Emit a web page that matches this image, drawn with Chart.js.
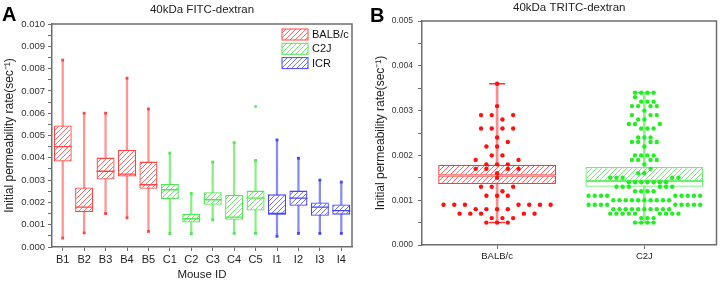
<!DOCTYPE html>
<html>
<head>
<meta charset="utf-8">
<script src="https://cdn.jsdelivr.net/npm/chart.js@4.4.1/dist/chart.umd.min.js"></script>
<style>
  html, body { margin: 0; padding: 0; background: #fff; }
  #wrap { position: relative; width: 726px; height: 282px; overflow: hidden; }
  #chartA { position: absolute; left: 0; top: 0; }
  #chartB { position: absolute; left: 365px; top: 0; }
</style>
</head>
<body>
<div id="wrap">
  <canvas id="chartA" width="365" height="282"></canvas>
  <canvas id="chartB" width="361" height="282"></canvas>
</div>
<script>
// ---------- panel A : per-mouse boxes ----------
const mouseIds = ['B1', 'B2', 'B3', 'B4', 'B5', 'C1', 'C2', 'C3', 'C4', 'C5', 'I1', 'I2', 'I3', 'I4'];
const strainNames = ['BALB/c', 'C2J', 'ICR'];
const strainOfMouse = [0, 0, 0, 0, 0, 1, 1, 1, 1, 1, 2, 2, 2, 2];
const boxLow    = [0.00383, 0.00157, 0.00303, 0.00316, 0.00261, 0.00215, 0.00110, 0.00189, 0.00122, 0.00164, 0.00145, 0.00185, 0.00140, 0.00145];
const boxMid    = [0.00450, 0.00179, 0.00340, 0.00327, 0.00279, 0.00257, 0.00127, 0.00212, 0.00134, 0.00219, 0.00150, 0.00219, 0.00179, 0.00163];
const boxHigh   = [0.00545, 0.00267, 0.00401, 0.00436, 0.00383, 0.00282, 0.00148, 0.00246, 0.00233, 0.00253, 0.00236, 0.00253, 0.00200, 0.00191];
const whiskLow  = [0.00040, 0.00063, 0.00150, 0.00131, 0.00070, 0.00060, 0.00060, 0.00122, 0.00061, 0.00061, 0.00048, 0.00061, 0.00061, 0.00061];
const whiskHigh = [0.00838, 0.00600, 0.00600, 0.00757, 0.00619, 0.00421, 0.00240, 0.00381, 0.00468, 0.00388, 0.00480, 0.00398, 0.00300, 0.00291];
const outlierRates = [null, null, null, null, null, null, null, null, null, 0.0063, null, null, null, null];

// ---------- panel B : pooled rates ----------
const groupNames = ['BALB/c', 'C2J'];
const groupBoxLow = [0.00136, 0.00130];
const groupBoxMid = [0.00155, 0.00143];
const groupBoxHigh = [0.00179, 0.00174];
const groupWhiskLow = [0.0005, 0.0005];
const groupWhiskHigh = [0.0036, 0.0034];

const balbRates = [
  0.0036, 0.0031,
  0.0029, 0.0029, 0.0029, 0.0028,
  0.0026, 0.0026, 0.0026, 0.0026,
  0.0024, 0.0023, 0.0022, 0.0022,
  0.0020, 0.0020,
  0.0019, 0.0019, 0.0018, 0.0018, 0.0018,
  0.0017, 0.0017, 0.0017, 0.0017, 0.0016,
  0.0015,
  0.0013, 0.0013, 0.0013, 0.0012,
  0.0011, 0.0011, 0.0011,
  0.0009, 0.0009, 0.0009, 0.0009, 0.0009, 0.0009, 0.0009,
  0.0008, 0.0008, 0.0008, 0.0008,
  0.0007, 0.0007, 0.0007, 0.0007, 0.0007,
  0.0006, 0.0006, 0.0006,
  0.0005, 0.0005, 0.0005
];
const c2jRates = [
  0.0034, 0.0034, 0.0034, 0.0034, 0.0033,
  0.0032, 0.0032, 0.0032,
  0.0031, 0.0031, 0.0031, 0.0031, 0.0030,
  0.0029, 0.0029, 0.0029, 0.0028, 0.0028,
  0.0027, 0.0027, 0.0027, 0.0026, 0.0026, 0.0026,
  0.0024, 0.0024, 0.0024,
  0.0023, 0.0023, 0.0023, 0.0023, 0.0022,
  0.0020, 0.0020, 0.0020, 0.0020,
  0.0019, 0.0019, 0.0019, 0.0019, 0.0018,
  0.0017, 0.0016, 0.0016,
  0.0015, 0.0015, 0.0015, 0.0015, 0.0015,
  0.0014, 0.0014, 0.0014, 0.0014, 0.0014, 0.0014, 0.0014,
  0.0013, 0.0013, 0.0013, 0.0013, 0.0013, 0.0013,
  0.0012, 0.0012, 0.0012, 0.0012,
  0.0011, 0.0011, 0.0011, 0.0011, 0.0011, 0.0011, 0.0011, 0.0011, 0.0011,
  0.0010, 0.0010, 0.0010, 0.0010, 0.0010, 0.0010, 0.0010, 0.0010, 0.0010, 0.0010,
  0.0009, 0.0009, 0.0009, 0.0009, 0.0009, 0.0009, 0.0009, 0.0009, 0.0009,
  0.0008, 0.0008, 0.0008, 0.0008, 0.0008, 0.0008, 0.0008, 0.0008, 0.0008, 0.0008,
  0.0007, 0.0007, 0.0007, 0.0007, 0.0007, 0.0007, 0.0007, 0.0007, 0.0007,
  0.0006, 0.0006, 0.0006,
  0.0005, 0.0005, 0.0005, 0.0005
];

const FONT = "'Liberation Sans', Arial, sans-serif";
const AXIS = '#6d6d6d';
Chart.defaults.font.family = FONT;
Chart.defaults.color = '#222';

// diagonal hatch fill on white, like the Origin pattern
function hatch(color) {
  const s = 5;
  const c = document.createElement('canvas');
  c.width = s; c.height = s;
  const g = c.getContext('2d');
  g.fillStyle = '#fff';
  g.fillRect(0, 0, s, s);
  g.strokeStyle = color;
  g.lineWidth = 1;
  g.beginPath();
  for (const k of [-s, 0, s]) { g.moveTo(k, s); g.lineTo(k + s, 0); }
  g.stroke();
  return g.createPattern(c, 'repeat');
}

const strainLine = ['rgb(255,70,70)', 'rgb(85,228,85)', 'rgb(70,70,255)'];
const strainWhisk = ['rgba(255,60,60,0.55)', 'rgba(60,225,60,0.6)', 'rgba(60,60,255,0.6)'];
const strainFill = [hatch('rgba(255,70,70,0.8)'), hatch('rgba(80,225,80,0.8)'), hatch('rgba(80,80,255,0.8)')];
const byMouse = arr => mouseIds.map((_, i) => arr[strainOfMouse[i]]);

const frame = {
  id: 'frame',
  afterDraw(chart) {
    const { ctx, chartArea: a } = chart;
    ctx.save();
    ctx.strokeStyle = AXIS;
    ctx.lineWidth = 1.5;
    ctx.beginPath();
    ctx.moveTo(a.left, a.top);
    ctx.lineTo(a.right, a.top);
    ctx.lineTo(a.right, a.bottom);
    ctx.stroke();
    ctx.restore();
  }
};

const panelText = {
  id: 'panelText',
  afterDraw(chart, args, o) {
    const { ctx, chartArea: a } = chart;
    ctx.save();
    ctx.fillStyle = '#000';
    ctx.font = 'bold 20px ' + FONT;
    ctx.fillText(o.letter, o.letterX, o.letterY);
    ctx.font = '11.5px ' + FONT;
    ctx.fillStyle = '#222';
    ctx.textAlign = 'center';
    ctx.fillText(o.title, (a.left + a.right) / 2, o.titleY);
    ctx.restore();
  }
};

const strainLegend = {
  id: 'strainLegend',
  afterDraw(chart, args, o) {
    if (!o.show) return;
    const { ctx, chartArea: a } = chart;
    ctx.save();
    ctx.font = '11px ' + FONT;
    ctx.textBaseline = 'middle';
    strainNames.forEach((name, i) => {
      const x = a.right - 70, y = a.top + 5 + i * 14.3;
      ctx.fillStyle = strainFill[i];
      ctx.fillRect(x, y, 26, 11);
      ctx.strokeStyle = strainLine[i];
      ctx.lineWidth = 1;
      ctx.strokeRect(x, y, 26, 11);
      ctx.fillStyle = '#111';
      ctx.fillText(name, x + 30, y + 6);
    });
    ctx.restore();
  }
};

function rateTicks(v) {
  const n = Math.round(v / 0.0005);
  return n % 2 ? '' : (n * 0.0005).toFixed(3);
}

// ---- chart A
new Chart(document.getElementById('chartA'), {
  type: 'bar',
  data: {
    labels: mouseIds,
    datasets: [
      {
        label: 'whisker',
        data: mouseIds.map((_, i) => [whiskLow[i], whiskHigh[i]]),
        backgroundColor: byMouse(strainWhisk),
        barThickness: 1.6,
        grouped: false,
        order: 4
      },
      {
        label: 'box',
        data: mouseIds.map((_, i) => [boxLow[i], boxHigh[i]]),
        backgroundColor: byMouse(strainFill),
        borderColor: byMouse(strainLine),
        borderWidth: 1.3,
        borderSkipped: false,
        categoryPercentage: 1,
        barPercentage: 0.84,
        grouped: false,
        order: 3
      },
      {
        type: 'line', label: 'median', data: boxMid, showLine: false,
        pointStyle: 'line', pointRadius: 9, pointBorderWidth: 1.4,
        pointBorderColor: byMouse(strainLine), order: 2
      },
      {
        type: 'line', label: 'max', data: whiskHigh, showLine: false,
        pointStyle: 'rect', pointRadius: 2, pointBorderWidth: 0,
        pointBackgroundColor: byMouse(strainLine), order: 1
      },
      {
        type: 'line', label: 'min', data: whiskLow, showLine: false,
        pointStyle: 'rect', pointRadius: 2, pointBorderWidth: 0,
        pointBackgroundColor: byMouse(strainLine), order: 1
      },
      {
        type: 'line', label: 'outlier', data: outlierRates, showLine: false,
        pointStyle: 'rect', pointRadius: 1.8, pointBorderWidth: 0,
        pointBackgroundColor: byMouse(strainLine), order: 0
      }
    ]
  },
  options: {
    responsive: false,
    animation: false,
    events: [],
    layout: { padding: { left: 0, top: 24, right: 13, bottom: 0 } },
    plugins: {
      legend: { display: false },
      tooltip: { enabled: false },
      panelText: { letter: 'A', letterX: 2, letterY: 21, title: '40kDa FITC-dextran', titleY: 13 },
      strainLegend: { show: true }
    },
    scales: {
      x: {
        offset: true,
        grid: { drawOnChartArea: false, offset: false, tickLength: 4, tickColor: AXIS },
        border: { color: AXIS, width: 1.5 },
        ticks: { font: { size: 11 }, color: '#222', padding: 2, maxRotation: 0, autoSkip: false },
        title: { display: true, text: 'Mouse ID', font: { size: 11.5 }, color: '#222', padding: 0 },
        afterFit(s) { s.height = 35; }
      },
      y: {
        min: 0, max: 0.01,
        grid: { drawOnChartArea: false, tickLength: 4, tickColor: AXIS },
        border: { color: AXIS, width: 1.5 },
        ticks: { stepSize: 0.0005, autoSkip: false, callback: rateTicks, font: { size: 9.5 }, color: '#333', padding: 3 },
        title: { display: true, text: 'Initial permeability rate(sec\u207B\u00B9)', font: { size: 12 }, color: '#222', padding: { top: 2, bottom: 0 } },
        afterFit(s) { s.width = 52; }
      }
    }
  },
  plugins: [frame, panelText, strainLegend]
});

// ---- chart B : box + beeswarm
const boxWidth = 0.8;      // in x-axis units
const swarmBin = 0.0002;   // values inside one bin share a row of slots

function swarmPoints(rates, center) {
  const bins = new Map();
  rates.forEach(v => {
    const k = Math.floor(v / swarmBin + 1e-6);
    if (!bins.has(k)) bins.set(k, []);
    bins.get(k).push(v);
  });
  const widest = Math.max(...[...bins.values()].map(b => b.length));
  const slotW = boxWidth / widest;
  const pts = [];
  bins.forEach(b => {
    b.sort((p, q) => p - q);
    const n = b.length;
    b.forEach((v, j) => {
      const off = n % 2
        ? (j === 0 ? 0 : (j % 2 ? -1 : 1) * Math.ceil(j / 2))
        : (j % 2 ? -1 : 1) * (Math.floor(j / 2) + 0.5);
      pts.push({ x: center + off * slotW, y: v });
    });
  });
  return pts;
}

const groupLine = ['rgb(255,55,55)', 'rgb(110,238,110)'];
const groupWhisk = ['rgba(255,60,60,0.6)', 'rgba(70,230,70,0.6)'];
const groupFill = [hatch('rgba(255,60,60,0.8)'), hatch('rgba(90,225,90,0.8)')];
const groupLowerFill = [groupFill[0], '#fff'];
const atGroup = arr => groupNames.map((_, i) => ({ x: i + 1, y: arr[i] }));

new Chart(document.getElementById('chartB'), {
  type: 'bar',
  data: {
    datasets: [
      {
        label: 'whisker',
        data: groupNames.map((_, i) => ({ x: i + 1, y: [groupWhiskLow[i], groupWhiskHigh[i]] })),
        backgroundColor: groupWhisk,
        barThickness: 2,
        grouped: false,
        order: 6
      },
      {
        type: 'line', label: 'max', data: atGroup(groupWhiskHigh), showLine: false,
        pointStyle: 'line', pointRadius: 8, pointBorderWidth: 1.5,
        pointBorderColor: groupLine, order: 5
      },
      {
        type: 'line', label: 'min', data: atGroup(groupWhiskLow), showLine: false,
        pointStyle: 'line', pointRadius: 8, pointBorderWidth: 1.5,
        pointBorderColor: groupLine, order: 5
      },
      {
        label: 'lower box',
        data: groupNames.map((_, i) => ({ x: i + 1, y: [groupBoxLow[i], groupBoxMid[i]] })),
        backgroundColor: groupLowerFill,
        borderColor: groupLine,
        borderWidth: 1.3,
        borderSkipped: false,
        categoryPercentage: 1,
        barPercentage: boxWidth,
        grouped: false,
        order: 4
      },
      {
        label: 'upper box',
        data: groupNames.map((_, i) => ({ x: i + 1, y: [groupBoxMid[i], groupBoxHigh[i]] })),
        backgroundColor: groupFill,
        borderColor: groupLine,
        borderWidth: 1.3,
        borderSkipped: false,
        categoryPercentage: 1,
        barPercentage: boxWidth,
        grouped: false,
        order: 3
      },
      {
        type: 'scatter', label: groupNames[0], data: swarmPoints(balbRates, 1),
        pointStyle: 'circle', pointRadius: 2.2, pointBorderWidth: 0,
        pointBackgroundColor: '#ff1010', order: 1
      },
      {
        type: 'scatter', label: groupNames[1], data: swarmPoints(c2jRates, 2),
        pointStyle: 'circle', pointRadius: 2.2, pointBorderWidth: 0,
        pointBackgroundColor: '#22ee22', order: 0
      }
    ]
  },
  options: {
    responsive: false,
    animation: false,
    events: [],
    layout: { padding: { left: 8, top: 21, right: 3, bottom: 0 } },
    plugins: {
      legend: { display: false },
      tooltip: { enabled: false },
      panelText: { letter: 'B', letterX: 5, letterY: 22, title: '40kDa TRITC-dextran', titleY: 11 }
    },
    scales: {
      x: {
        type: 'linear', min: 0.49, max: 2.49, offset: false,
        afterBuildTicks(s) { s.ticks = groupNames.map((_, i) => ({ value: i + 1 })); },
        grid: { drawOnChartArea: false, offset: false, tickLength: 4, tickColor: AXIS },
        border: { color: AXIS, width: 1.5 },
        ticks: { callback: v => groupNames[v - 1] || '', font: { size: 9.5 }, color: '#222', padding: 2, maxRotation: 0 },
        afterFit(s) { s.height = 37; }
      },
      y: {
        min: 0, max: 0.005,
        grid: { drawOnChartArea: false, tickLength: 4, tickColor: AXIS },
        border: { color: AXIS, width: 1.5 },
        ticks: { stepSize: 0.0005, autoSkip: false, callback: rateTicks, font: { size: 8.5 }, color: '#333', padding: 5 },
        title: { display: true, text: 'Initial permeability rate(sec\u207B\u00B9)', font: { size: 12 }, color: '#222', padding: { top: 0, bottom: 0 } },
        afterFit(s) { s.width = 49; }
      }
    }
  },
  plugins: [frame, panelText]
});
</script>
</body>
</html>
